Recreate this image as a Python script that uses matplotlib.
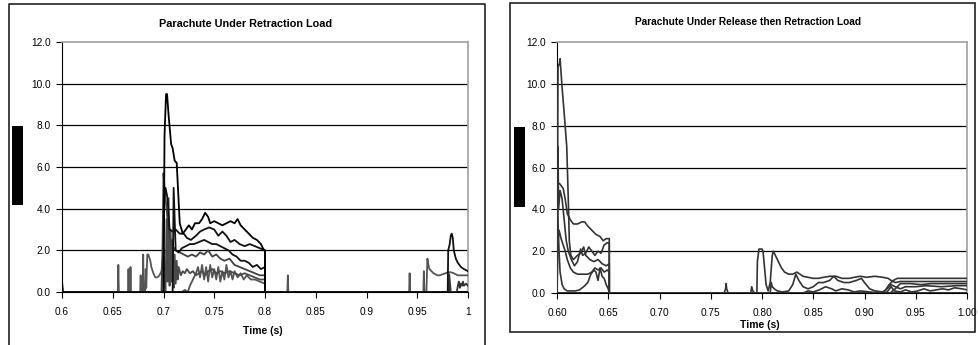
import matplotlib
matplotlib.use('Agg')
from matplotlib import pyplot as plt
from matplotlib.patches import Rectangle
from matplotlib.lines import Line2D

plt.rcParams['font.family'] = ['Liberation Sans', 'DejaVu Sans']

W, H = 979, 345

# ---- data: left chart (retraction load) ----
left_title = 'Parachute Under Retraction Load'
left_xticks = [0.6, 0.65, 0.7, 0.75, 0.8, 0.85, 0.9, 0.95, 1.0]
left_xlabels = ['0.6', '0.65', '0.7', '0.75', '0.8', '0.85', '0.9', '0.95', '1']

l1_t = [0.600, 0.601, 0.700, 0.701, 0.7025, 0.7035, 0.705, 0.7075, 0.709, 0.711, 0.713, 0.716, 0.719, 0.722, 0.725, 0.728, 0.731, 0.735, 0.738, 0.741, 0.744, 0.746, 0.750, 0.754, 0.758, 0.762, 0.766, 0.770, 0.773, 0.776, 0.780, 0.784, 0.788, 0.792, 0.796, 0.799, 0.800, 0.800, 1.0]
l1_v = [0.5, 0.0, 0.0, 7.5, 9.5, 9.5, 8.5, 7.1, 6.9, 6.3, 6.2, 3.3, 2.8, 3.0, 3.2, 3.0, 3.3, 3.3, 3.5, 3.8, 3.6, 3.3, 3.4, 3.3, 3.2, 3.3, 3.4, 3.3, 3.5, 3.2, 3.0, 2.8, 2.6, 2.5, 2.3, 2.0, 2.0, 0.0, 0.0]

l2_t = [0.6, 0.700, 0.7005, 0.702, 0.704, 0.706, 0.709, 0.712, 0.716, 0.720, 0.723, 0.727, 0.732, 0.736, 0.740, 0.745, 0.750, 0.754, 0.758, 0.762, 0.766, 0.770, 0.775, 0.780, 0.785, 0.790, 0.795, 0.800, 0.800, 1.0]
l2_v = [0.0, 0.0, 4.5, 5.0, 4.5, 3.0, 2.9, 3.0, 2.8, 2.8, 2.6, 2.5, 2.7, 2.9, 3.0, 3.1, 3.0, 2.7, 2.9, 2.7, 2.4, 2.5, 2.3, 2.2, 2.3, 2.2, 2.1, 2.0, 0.0, 0.0]

l3_t = [0.6, 0.709, 0.710, 0.712, 0.715, 0.718, 0.722, 0.726, 0.730, 0.735, 0.740, 0.744, 0.748, 0.752, 0.756, 0.760, 0.764, 0.768, 0.772, 0.776, 0.780, 0.784, 0.788, 0.792, 0.796, 0.800, 0.800, 1.0]
l3_v = [0.0, 0.0, 5.0, 2.0, 1.9, 2.1, 2.2, 2.3, 2.3, 2.4, 2.5, 2.4, 2.3, 2.3, 2.2, 2.1, 2.0, 1.8, 1.7, 1.5, 1.5, 1.4, 1.2, 1.3, 1.1, 1.2, 0.0, 0.0]

l4_t = [0.6, 0.698, 0.699, 0.700, 0.701, 0.703, 0.705, 0.707, 0.709, 0.712, 0.716, 0.720, 0.724, 0.728, 0.732, 0.736, 0.740, 0.744, 0.748, 0.752, 0.756, 0.760, 0.765, 0.770, 0.775, 0.780, 0.785, 0.790, 0.795, 0.800, 0.800, 1.0]
l4_v = [0.0, 0.0, 2.0, 5.7, 5.0, 4.0, 3.0, 2.5, 2.2, 2.0, 1.9, 1.8, 1.7, 1.8, 1.7, 1.9, 1.8, 2.0, 1.7, 1.8, 1.6, 1.5, 1.6, 1.3, 1.2, 1.1, 1.0, 0.9, 0.8, 0.8, 0.0, 0.0]

l5_t = [0.6, 0.702, 0.703, 0.704, 0.705, 0.706, 0.707, 0.708, 0.709, 0.710, 0.711, 0.712, 0.713, 0.714, 0.715, 0.717, 0.719, 0.721, 0.723, 0.726, 0.729, 0.732, 0.735, 0.738, 0.741, 0.744, 0.748, 0.752, 0.756, 0.760, 0.765, 0.770, 0.775, 0.780, 0.785, 0.790, 0.795, 0.800, 0.800, 1.0]
l5_v = [0.0, 0.0, 3.5, 0.5, 4.5, 0.3, 3.0, 0.5, 2.5, 0.2, 1.8, 0.4, 1.5, 0.6, 1.2, 0.8, 1.0, 0.9, 1.1, 0.9, 1.0, 0.8, 0.9, 1.0, 0.8, 1.0, 1.1, 0.9, 1.0, 0.9, 1.0, 0.9, 0.8, 0.9, 0.8, 0.7, 0.6, 0.6, 0.0, 0.0]

l6_t = [0.6, 0.718, 0.721, 0.724, 0.726, 0.728, 0.730, 0.732, 0.734, 0.736, 0.738, 0.740, 0.742, 0.744, 0.746, 0.748, 0.750, 0.752, 0.754, 0.756, 0.758, 0.760, 0.762, 0.764, 0.766, 0.768, 0.770, 0.773, 0.776, 0.779, 0.782, 0.786, 0.790, 0.795, 0.800, 0.800, 1.0]
l6_v = [0.0, 0.0, 0.1, 0.0, 0.3, 0.5, 0.7, 0.9, 1.2, 0.7, 1.3, 0.6, 1.2, 0.5, 1.3, 0.7, 1.1, 0.6, 1.2, 0.5, 1.0, 0.6, 1.3, 0.7, 1.0, 0.6, 1.0, 0.7, 0.9, 0.6, 0.8, 0.6, 0.6, 0.5, 0.4, 0.0, 0.0]

l7_t = [0.6, 0.655, 0.6555, 0.656, 0.665, 0.6655, 0.666, 0.667, 0.6675, 0.668, 0.677, 0.6775, 0.678, 0.6795, 0.680, 0.6805, 0.682, 0.6825, 0.683, 0.684, 0.685, 0.687, 0.688, 0.690, 0.692, 0.694, 0.696, 0.698, 0.699, 0.700, 0.701, 0.702,
        0.822, 0.8225, 0.823, 0.942, 0.9425, 0.943, 0.956, 0.9565, 0.957, 0.959, 0.960, 0.961, 0.962, 0.964, 0.966, 0.968, 0.970, 0.972, 0.975, 0.978, 0.980, 0.983, 0.986, 0.990, 0.995, 1.0]
l7_v = [0.0, 0.0, 1.3, 0.0, 0.0, 1.1, 0.0, 0.0, 1.2, 0.0, 0.0, 0.8, 0.0, 0.0, 1.8, 0.0, 0.0, 1.1, 0.2, 1.8, 1.8, 1.5, 1.2, 0.9, 0.7, 0.7, 0.8, 1.0, 1.5, 2.0, 0.5, 0.0,
        0.0, 0.8, 0.0, 0.0, 0.9, 0.0, 0.0, 1.0, 0.0, 0.0, 1.6, 1.3, 1.1, 1.0, 0.9, 0.85, 0.8, 0.8, 0.85, 0.9, 0.95, 0.95, 0.9, 0.8, 0.8, 0.8]

l8_t = [0.6, 0.980, 0.9805, 0.982, 0.983, 0.984, 0.985, 0.986, 0.988, 0.990, 0.993, 0.996, 1.0]
l8_v = [0.0, 0.0, 2.0, 2.3, 2.7, 2.8, 2.6, 2.0, 1.6, 1.4, 1.2, 1.1, 1.0]

l9_t = [0.6, 0.981, 0.9815, 0.983, 0.989, 0.990, 0.991, 0.992, 0.993, 0.994, 0.995, 0.996, 0.998, 1.0]
l9_v = [0.0, 0.0, 0.85, 0.0, 0.0, 0.3, 0.5, 0.2, 0.4, 0.3, 0.5, 0.3, 0.4, 0.3]

left_series = [(l7_t, l7_v, '#555555'), (l6_t, l6_v, '#555555'), (l5_t, l5_v, '#4a4a4a'),
               (l4_t, l4_v, '#404040'), (l3_t, l3_v, '#111111'), (l2_t, l2_v, '#111111'),
               (l1_t, l1_v, '#000000'), (l9_t, l9_v, '#333333'), (l8_t, l8_v, '#111111')]

# ---- data: right chart (release then retraction load) ----
right_title = 'Parachute Under Release then Retraction Load'
right_xticks = [0.6, 0.65, 0.7, 0.75, 0.8, 0.85, 0.9, 0.95, 1.0]
right_xlabels = ['0.60', '0.65', '0.70', '0.75', '0.80', '0.85', '0.90', '0.95', '1.00']

r1_t = [0.600, 0.601, 0.6025, 0.603, 0.605, 0.607, 0.6095, 0.611, 0.612, 0.6135, 0.616, 0.620, 0.623, 0.626, 0.628, 0.632, 0.636, 0.640, 0.644, 0.648, 0.651, 0.651, 1.0]
r1_v = [0.0, 10.8, 11.0, 11.2, 9.8, 8.6, 7.0, 4.5, 2.5, 1.8, 1.6, 1.8, 1.9, 2.2, 1.8, 1.6, 1.5, 1.6, 1.4, 1.3, 1.4, 0.0, 0.0]

r2_t = [0.600, 0.6005, 0.603, 0.606, 0.608, 0.610, 0.613, 0.616, 0.620, 0.624, 0.627, 0.630, 0.634, 0.638, 0.642, 0.645, 0.648, 0.651, 0.651, 1.0]
r2_v = [0.0, 5.3, 5.2, 5.0, 4.5, 3.8, 3.5, 3.3, 3.3, 3.4, 3.4, 3.2, 3.0, 2.8, 2.7, 2.5, 2.6, 2.6, 0.0, 0.0]

r3_t = [0.600, 0.601, 0.602, 0.604, 0.606, 0.608, 0.610, 0.613, 0.616, 0.620, 0.625, 0.630, 0.634, 0.637, 0.640, 0.643, 0.646, 0.649, 0.651, 0.651, 1.0]
r3_v = [0.0, 2.5, 3.0, 2.6, 2.3, 2.0, 1.6, 1.2, 1.0, 0.9, 0.9, 0.9, 1.0, 1.2, 1.1, 1.2, 1.0, 1.1, 1.0, 0.0, 0.0]

r4_t = [0.600, 0.6005, 0.602, 0.603, 0.605, 0.607, 0.610, 0.614, 0.618, 0.622, 0.626, 0.630, 0.633, 0.636, 0.638, 0.640, 0.642, 0.644, 0.646, 0.648, 0.650, 0.651, 1.0]
r4_v = [0.0, 4.0, 2.0, 1.0, 0.4, 0.2, 0.1, 0.1, 0.1, 0.15, 0.3, 0.5, 0.9, 1.1, 1.0, 0.6, 1.2, 0.8, 0.7, 0.4, 0.2, 0.0, 0.0]

r5_t = [0.600, 0.601, 0.6015, 0.603, 0.605, 0.607, 0.609, 0.611, 0.614, 0.617, 0.620, 0.623, 0.625, 0.628, 0.631, 0.634, 0.637, 0.640, 0.643, 0.646, 0.649, 0.651, 0.651, 1.0]
r5_v = [0.0, 7.0, 4.0, 4.9, 4.5, 3.5, 2.5, 2.0, 1.6, 1.3, 1.5, 2.1, 1.8, 1.9, 2.2, 2.0, 1.8, 2.0, 1.9, 2.3, 2.4, 2.4, 0.0, 0.0]

r6_t = [0.6, 0.763, 0.7645, 0.765, 0.7655, 0.767, 0.789, 0.790, 0.791, 0.793, 1.0]
r6_v = [0.0, 0.0, 0.2, 0.45, 0.2, 0.0, 0.0, 0.3, 0.1, 0.0, 0.0]

r7_t = [0.6, 0.795, 0.7955, 0.797, 0.800, 0.801, 0.8025, 0.804, 0.806, 0.808, 0.810, 0.811, 0.813, 0.816, 0.819, 0.822, 0.826, 0.830, 0.834, 0.837, 0.840, 0.845, 0.850, 0.855, 0.860, 0.866, 0.872, 0.878, 0.885, 0.890, 0.896, 0.902, 0.910, 0.918, 0.923, 0.926, 0.930, 0.935, 0.945, 0.960, 0.980, 1.0]
r7_v = [0.0, 0.0, 1.5, 2.1, 2.1, 2.0, 1.2, 0.4, 0.1, 0.5, 1.8, 2.0, 1.8, 1.5, 1.2, 1.0, 0.9, 0.9, 1.0, 0.9, 0.8, 0.75, 0.7, 0.7, 0.75, 0.8, 0.8, 0.7, 0.7, 0.75, 0.8, 0.75, 0.8, 0.75, 0.7, 0.6, 0.5, 0.55, 0.55, 0.55, 0.55, 0.55]

r8_t = [0.6, 0.808, 0.809, 0.810, 0.812, 0.815, 0.820, 0.826, 0.830, 0.833, 0.836, 0.840, 0.845, 0.850, 0.855, 0.860, 0.866, 0.870, 0.874, 0.880, 0.885, 0.892, 0.897, 0.900, 0.905, 0.910, 0.918, 0.922, 0.926, 0.930, 0.935, 0.940, 0.950, 0.960, 0.975, 0.990, 1.0]
r8_v = [0.0, 0.0, 0.5, 0.3, 0.2, 0.1, 0.05, 0.1, 0.4, 0.9, 0.6, 0.3, 0.2, 0.3, 0.5, 0.5, 0.6, 0.8, 0.6, 0.5, 0.5, 0.6, 0.7, 0.5, 0.2, 0.1, 0.05, 0.2, 0.4, 0.3, 0.2, 0.3, 0.3, 0.35, 0.3, 0.35, 0.35]

r9_t = [0.6, 0.840, 0.845, 0.850, 0.856, 0.862, 0.868, 0.872, 0.878, 0.884, 0.890, 0.896, 0.905, 0.915, 0.920, 0.924, 0.928, 0.932, 0.940, 0.950, 0.965, 0.980, 1.0]
r9_v = [0.0, 0.0, 0.1, 0.05, 0.15, 0.3, 0.2, 0.1, 0.2, 0.15, 0.05, 0.1, 0.05, 0.0, 0.1, 0.4, 0.6, 0.7, 0.7, 0.7, 0.7, 0.7, 0.7]

r10_t = [0.6, 0.918, 0.922, 0.926, 0.929, 0.935, 0.940, 0.946, 0.952, 0.958, 0.964, 0.970, 0.976, 0.982, 0.988, 0.995, 1.0]
r10_v = [0.0, 0.0, 0.05, 0.3, 0.1, 0.05, 0.15, 0.05, 0.1, 0.2, 0.1, 0.15, 0.2, 0.15, 0.25, 0.2, 0.15]

r11_t = [0.6, 0.925, 0.930, 0.935, 0.945, 0.955, 0.965, 0.980, 1.0]
r11_v = [0.0, 0.0, 0.2, 0.45, 0.45, 0.4, 0.45, 0.45, 0.45]

right_series = [(r1_t, r1_v), (r2_t, r2_v), (r3_t, r3_v), (r4_t, r4_v), (r5_t, r5_v),
                (r6_t, r6_v), (r7_t, r7_v), (r8_t, r8_v), (r9_t, r9_v), (r10_t, r10_v), (r11_t, r11_v)]

yticks = [0, 2, 4, 6, 8, 10, 12]


def px(x0, y0, x1, y1):
    # pixel box -> figure fraction [left, bottom, width, height]
    return [x0 / W, 1 - y1 / H, (x1 - x0) / W, (y1 - y0) / H]


def style_axes(ax, xticks, xlabels):
    ax.set_xlim(0.6, 1.0)
    ax.set_ylim(0, 12)
    ax.set_xticks(xticks)
    ax.set_xticklabels(xlabels)
    ax.set_yticks(yticks)
    ax.set_yticklabels(['%.1f' % v for v in yticks])
    ax.tick_params(direction='out', length=4, width=0.8, labelsize=7.3, colors='black')
    ax.tick_params(axis='x', pad=7)
    ax.tick_params(axis='y', pad=4)
    for y in yticks[1:-1]:
        ax.axhline(y, color='black', lw=0.9, zorder=1)
    ax.spines['top'].set_color('#a0a0a0')
    ax.spines['right'].set_color('#a0a0a0')
    ax.spines['top'].set_linewidth(1.2)
    ax.spines['right'].set_linewidth(1.2)
    ax.spines['left'].set_linewidth(0.8)
    ax.spines['bottom'].set_linewidth(0.8)


fig = plt.figure(figsize=(W / 100, H / 100), dpi=100)

# outer chart frames
fig.add_artist(Line2D([9 / W, 9 / W, 485 / W, 485 / W], [0, 1 - 4 / H, 1 - 4 / H, 0],
                      transform=fig.transFigure, color='#222222', lw=1.2))
fig.add_artist(Rectangle((510 / W, 1 - 332 / H), 465 / W, 329 / H, transform=fig.transFigure,
                         fill=False, edgecolor='#222222', lw=1.2))

# left chart
ax1 = fig.add_axes(px(62, 42, 468, 292))
for t, v, c in left_series:
    ax1.plot(t, v, color=c, lw=1.3, zorder=3)
style_axes(ax1, left_xticks, left_xlabels)
fig.text(246 / W, 1 - 24 / H, left_title, ha='center', va='center', fontsize=7.8, fontweight='bold')
fig.text(263 / W, 1 - 331 / H, 'Time (s)', ha='center', va='center', fontsize=7.5, fontweight='bold')
fig.add_artist(Rectangle((12 / W, 1 - 205 / H), 11 / W, 79 / H, transform=fig.transFigure,
                         color='black', lw=0))

# right chart
ax2 = fig.add_axes(px(557, 42, 967, 293))
for t, v in right_series:
    ax2.plot(t, v, color='#333333', lw=1.2, zorder=3)
style_axes(ax2, right_xticks, right_xlabels)
fig.text(748 / W, 1 - 22 / H, right_title, ha='center', va='center', fontsize=7.3, fontweight='bold')
fig.text(760 / W, 1 - 325 / H, 'Time (s)', ha='center', va='center', fontsize=7.5, fontweight='bold')
fig.add_artist(Rectangle((514 / W, 1 - 207 / H), 11 / W, 80 / H, transform=fig.transFigure,
                         color='black', lw=0))

plt.savefig('out.png', dpi=100)
plt.close('all')
